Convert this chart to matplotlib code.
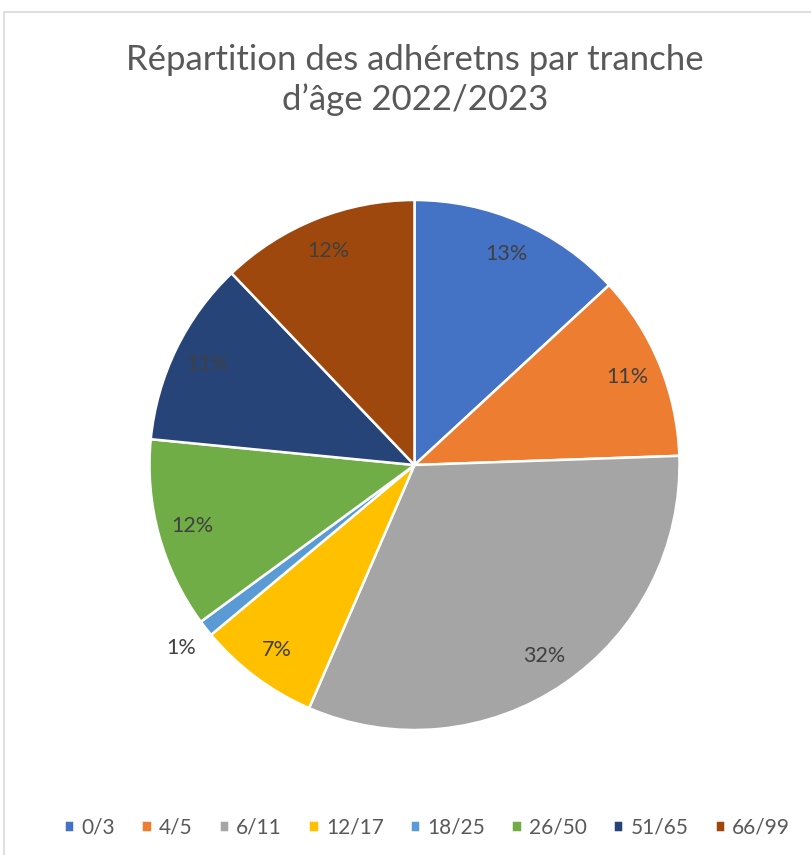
import matplotlib
matplotlib.use('Agg')
import numpy as np
import matplotlib.pyplot as plt
from matplotlib.patches import Rectangle

# tranches d'age et parts (en %)
categories = ['0/3', '4/5', '6/11', '12/17', '18/25', '26/50', '51/65', '66/99']
values = [13.1, 11.3, 32.0, 7.4, 1.0, 11.6, 11.3, 12.1]
colors = ['#4472C4', '#ED7D31', '#A5A5A5', '#FFC000',
          '#5B9BD5', '#70AD47', '#264478', '#9E480E']
title = 'Répartition des adhéretns par tranche\nd\u2019âge 2022/2023'

plt.rcParams['font.family'] = ['Lato', 'DejaVu Sans']

W, H = 812, 855
fig = plt.figure(figsize=(W / 100, H / 100), dpi=100)

# cadre gris clair
fig.patches.append(Rectangle((4.5 / W, -0.1), 1.2, 1 - 12 / H + 0.1,
                             transform=fig.transFigure, fill=False,
                             edgecolor='#d9d9d9', linewidth=1.2))

cx, cy, r = 414.5, 465, 265
ax = fig.add_axes([(cx - r) / W, (H - cy - r) / H, 2 * r / W, 2 * r / H])
wedges, texts, autotexts = ax.pie(
    values, colors=colors, startangle=90, counterclock=False,
    autopct='%1.0f%%', pctdistance=0.87, radius=1,
    wedgeprops=dict(edgecolor='white', linewidth=1.8),
    textprops=dict(color='#404040', fontsize=15.5))
ax.set_xlim(-1, 1)
ax.set_ylim(-1, 1)
ax.set_aspect('equal')

# petite part : etiquette a l'exterieur
small = values.index(min(values))
w = wedges[small]
mid = np.deg2rad((w.theta1 + w.theta2) / 2)
autotexts[small].set_position((1.12 * np.cos(mid), 1.12 * np.sin(mid)))

fig.text(415 / W, 1 - 80 / H, title, ha='center', va='center',
         fontsize=25, color='#595959', linespacing=1.3)

fig.legend(wedges, categories, loc='center', ncol=8,
           bbox_to_anchor=(427 / W, 1 - 827 / H), frameon=False,
           handlelength=0.5, handleheight=0.5, handletextpad=0.35,
           columnspacing=1.25, fontsize=15, labelcolor='#595959')

fig.savefig('out.png', dpi=100)
